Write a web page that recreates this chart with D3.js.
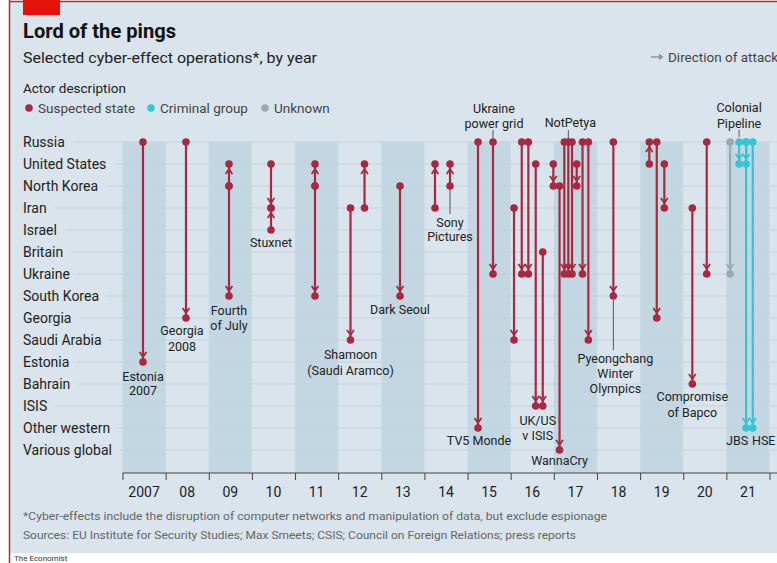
<!DOCTYPE html>
<html>
<head>
<meta charset="utf-8">
<script src="https://cdn.jsdelivr.net/npm/d3@7"></script>
<style>
  body { margin: 0; background: #fff; }
  text { font-family: Roboto, "Open Sans", sans-serif; }
</style>
</head>
<body>
<svg width="777" height="563"></svg>
<script>
// The svg
var svg = d3.select("svg"),
    width = +svg.attr("width"),
    height = +svg.attr("height");

// Data
var actors = ["Russia", "United States", "North Korea", "Iran", "Israel", "Britain", "Ukraine",
  "South Korea", "Georgia", "Saudi Arabia", "Estonia", "Bahrain", "ISIS", "Other western", "Various global"];
var years = d3.range(2007, 2022);
var yearLabels = ["2007", "08", "09", "10", "11", "12", "13", "14", "15", "16", "17", "18", "19", "20", "21"];
var actorTypes = ["Suspected state", "Criminal group", "Unknown"];

// one entry per operation (decimal year, attacker, target, actor description)
var opYear = [2007.475, 2008.472, 2009.469, 2009.469, 2010.443, 2010.443, 2011.463, 2011.463,
  2012.286, 2012.611, 2013.434, 2014.245, 2014.593, 2015.242, 2015.590, 2016.077, 2016.256,
  2016.409, 2016.580, 2016.743, 2016.988, 2017.132, 2017.243, 2017.336, 2017.422, 2017.531,
  2017.665, 2017.800, 2018.380, 2019.214, 2019.386, 2019.562, 2020.211, 2020.545, 2021.086,
  2021.295, 2021.458, 2021.458, 2021.612];
var opFrom = ["Russia", "Russia", "North Korea", "North Korea", "United States", "Israel",
  "North Korea", "North Korea", "Iran", "Iran", "North Korea", "Iran", "North Korea", "Russia",
  "Russia", "Iran", "Russia", "Russia", "United States", "Britain", "United States", "North Korea",
  "Russia", "Russia", "Russia", "United States", "Russia", "Russia", "Russia", "United States",
  "Russia", "United States", "Iran", "Russia", "Russia", "Russia", "Russia", "Russia", "Russia"];
var opTo = ["Estonia", "Georgia", "United States", "South Korea", "Iran", "Iran", "United States",
  "South Korea", "Saudi Arabia", "United States", "South Korea", "United States", "United States",
  "Other western", "Ukraine", "Saudi Arabia", "Ukraine", "Ukraine", "ISIS", "ISIS", "North Korea",
  "Various global", "Ukraine", "Ukraine", "Ukraine", "North Korea", "Ukraine", "Saudi Arabia",
  "South Korea", "Russia", "Georgia", "Iran", "Bahrain", "Ukraine", "Ukraine", "United States",
  "United States", "Other western", "Other western"];
var opType = ["Suspected state", "Suspected state", "Suspected state", "Suspected state",
  "Suspected state", "Suspected state", "Suspected state", "Suspected state", "Suspected state",
  "Suspected state", "Suspected state", "Suspected state", "Suspected state", "Suspected state",
  "Suspected state", "Suspected state", "Suspected state", "Suspected state", "Suspected state",
  "Suspected state", "Suspected state", "Suspected state", "Suspected state", "Suspected state",
  "Suspected state", "Suspected state", "Suspected state", "Suspected state", "Suspected state",
  "Suspected state", "Suspected state", "Suspected state", "Suspected state", "Suspected state",
  "Unknown", "Criminal group", "Criminal group", "Criminal group", "Criminal group"];

var ops = opYear.map(function (d, i) {
  return { year: d, from: opFrom[i], to: opTo[i], type: opType[i] };
});

// annotations: which operation, text lines, baselines, nudge
var notes = [
  { op: 0, lines: ["Estonia", "2007"], y: [381, 395], dx: 0 },
  { op: 1, lines: ["Georgia", "2008"], y: [335, 351], dx: -4 },
  { op: 2, lines: ["Fourth", "of July"], y: [315, 330], dx: 0 },
  { op: 4, lines: ["Stuxnet"], y: [247], dx: 0 },
  { op: 8, lines: ["Shamoon", "(Saudi Aramco)"], y: [359, 375], dx: 0 },
  { op: 10, lines: ["Dark Seoul"], y: [314], dx: 0 },
  { op: 12, lines: ["Sony", "Pictures"], y: [227, 241], dx: 0, leader: [189, 214] },
  { op: 14, lines: ["Ukraine", "power grid"], y: [113, 128], dx: 1, leader: [130, 138] },
  { op: 23, lines: ["NotPetya"], y: [127], dx: 2, leader: [130, 139] },
  { op: 13, lines: ["TV5 Monde"], y: [445], dx: 1 },
  { op: 19, lines: ["UK/US", "v ISIS"], y: [424.5, 439.5], dx: -5 },
  { op: 21, lines: ["WannaCry"], y: [465], dx: 0 },
  { op: 28, lines: ["Pyeongchang", "Winter", "Olympics"], y: [363, 378, 393], dx: 2, leader: [300, 350] },
  { op: 32, lines: ["Compromise", "of Bapco"], y: [401, 417], dx: 0 },
  { op: 35, lines: ["Colonial", "Pipeline"], y: [111.5, 127.5], dx: 0, leader: [130, 137] },
  { op: 37, lines: ["JBS"], y: [445], dx: -9 },
  { op: 38, lines: ["HSE"], y: [445], dx: 11 }
];

// Scales
var x = d3.scaleLinear().domain([2007, 2022]).range([122.5, 769.5]);
var y = d3.scalePoint().domain(actors).range([142, 450]);
var color = d3.scaleOrdinal().domain(actorTypes).range(["#a8283f", "#36c3d3", "#9fa8ae"]);
var axisY = 473;

// frame
svg.append("rect").attr("x", 10).attr("y", 1).attr("width", width - 10).attr("height", 552)
  .attr("fill", "#d9e4ec");
svg.append("line").attr("x1", 9.5).attr("x2", 9.5).attr("y1", 0).attr("y2", height)
  .attr("stroke", "#b3283a").attr("stroke-width", 1.5);
svg.append("line").attr("x1", 9).attr("x2", width).attr("y1", 1.5).attr("y2", 1.5)
  .attr("stroke", "#b3283a").attr("stroke-width", 1.5);
svg.append("rect").attr("x", 23).attr("y", 0).attr("width", 37).attr("height", 15).attr("fill", "#e3120b");

// titles
svg.append("text").attr("x", 23).attr("y", 38).attr("font-size", 20).attr("font-weight", 700)
  .attr("fill", "#111").attr("textLength", 153).attr("lengthAdjust", "spacingAndGlyphs")
  .text("Lord of the pings");
svg.append("text").attr("x", 23).attr("y", 63).attr("font-size", 15).attr("fill", "#222")
  .attr("textLength", 294).attr("lengthAdjust", "spacingAndGlyphs")
  .text("Selected cyber-effect operations*, by year");

// direction of attack
var dir = svg.append("g").attr("transform", "translate(651,57)");
dir.append("line").attr("x1", 0).attr("x2", 11).attr("y1", 0).attr("y2", 0)
  .attr("stroke", "#8b959c").attr("stroke-width", 1.5);
dir.append("path").attr("d", "M8,-3.5L12.5,0L8,3.5Z").attr("fill", "#8b959c");
dir.append("text").attr("x", 17).attr("y", 5).attr("font-size", 13.5).attr("fill", "#444")
  .text("Direction of attack");

// legend
svg.append("text").attr("x", 23).attr("y", 93).attr("font-size", 13.5).attr("fill", "#222")
  .text("Actor description");
var legendX = [29, 151, 265];
var lg = svg.append("g").selectAll("g").data(actorTypes).enter().append("g")
  .attr("transform", function (d, i) { return "translate(" + legendX[i] + ",108)"; });
lg.append("circle").attr("r", 3.8).attr("fill", function (d) { return color(d); });
lg.append("text").attr("x", 9).attr("y", 4.5).attr("font-size", 13.5).attr("fill", "#444")
  .text(function (d) { return d; });

// year bands
svg.append("g").selectAll("rect")
  .data(years.filter(function (d) { return (d - 2007) % 2 === 0; }))
  .enter().append("rect")
  .attr("x", function (d) { return x(d); })
  .attr("width", function (d) { return x(d + 1) - x(d); })
  .attr("y", y("Russia"))
  .attr("height", axisY - y("Russia"))
  .attr("fill", "#c3d7e3");

// row labels and gridlines
var rows = svg.append("g").selectAll("g").data(actors).enter().append("g");
rows.append("text").attr("x", 23).attr("y", function (d) { return y(d) + 5; })
  .attr("font-size", 14).attr("fill", "#222").text(function (d) { return d; });
rows.insert("line", "text")
  .attr("x1", function () { return 23 + this.parentNode.querySelector("text").getComputedTextLength() + 8; })
  .attr("x2", width)
  .attr("y1", function (d) { return y(d); })
  .attr("y2", function (d) { return y(d); })
  .attr("stroke", "#c5d3dd").attr("stroke-width", 1);

// x axis
var xAxis = svg.append("g").attr("transform", "translate(0," + axisY + ")")
  .call(d3.axisBottom(x).tickValues(d3.range(2007, 2023)).tickSize(7).tickFormat(""));
xAxis.select(".domain").remove();
xAxis.selectAll(".tick line").attr("stroke", "#444");
svg.append("line").attr("x1", x(2007)).attr("x2", width).attr("y1", axisY).attr("y2", axisY)
  .attr("stroke", "#444");
svg.append("g").selectAll("text").data(years).enter().append("text")
  .attr("x", function (d) { return x(d + 0.5); })
  .attr("y", axisY + 24)
  .attr("text-anchor", "middle").attr("font-size", 14).attr("fill", "#222")
  .text(function (d, i) { return yearLabels[i]; });

// operations
var g = svg.append("g");
g.selectAll("line.op").data(ops).enter().append("line").attr("class", "op")
  .attr("x1", function (d) { return x(d.year); })
  .attr("x2", function (d) { return x(d.year); })
  .attr("y1", function (d) { return y(d.from); })
  .attr("y2", function (d) { return y(d.to); })
  .attr("stroke", function (d) { return color(d.type); })
  .attr("stroke-width", 2.2);
g.selectAll("path.arrow").data(ops).enter().append("path").attr("class", "arrow")
  .attr("d", function (d) {
    var px = x(d.year), ty = y(d.to), s = ty > y(d.from) ? 1 : -1;
    return "M" + (px - 3.4) + "," + (ty - s * 10) + "L" + px + "," + (ty - s * 5) +
      "L" + (px + 3.4) + "," + (ty - s * 10);
  })
  .attr("fill", "none")
  .attr("stroke", function (d) { return color(d.type); })
  .attr("stroke-width", 1.8);
g.selectAll("circle.from").data(ops).enter().append("circle")
  .attr("cx", function (d) { return x(d.year); })
  .attr("cy", function (d) { return y(d.from); })
  .attr("r", 3.8).attr("fill", function (d) { return color(d.type); });
g.selectAll("circle.to").data(ops).enter().append("circle")
  .attr("cx", function (d) { return x(d.year); })
  .attr("cy", function (d) { return y(d.to); })
  .attr("r", 3.8).attr("fill", function (d) { return color(d.type); });

// annotations
var an = svg.append("g").selectAll("g").data(notes).enter().append("g");
an.filter(function (d) { return d.leader; }).append("line")
  .attr("x1", function (d) { return x(ops[d.op].year); })
  .attr("x2", function (d) { return x(ops[d.op].year); })
  .attr("y1", function (d) { return d.leader[0]; })
  .attr("y2", function (d) { return d.leader[1]; })
  .attr("stroke", "#555").attr("stroke-width", 1);
an.each(function (d) {
  var el = d3.select(this);
  d.lines.forEach(function (t, i) {
    el.append("text")
      .attr("x", x(ops[d.op].year) + d.dx)
      .attr("y", d.y[i])
      .attr("text-anchor", "middle")
      .attr("font-size", 12.5).attr("fill", "#222")
      .text(t);
  });
});

// footnotes
svg.append("text").attr("x", 23).attr("y", 520).attr("font-size", 11.5).attr("fill", "#666")
  .attr("textLength", 584).attr("lengthAdjust", "spacingAndGlyphs")
  .text("*Cyber-effects include the disruption of computer networks and manipulation of data, but exclude espionage");
svg.append("text").attr("x", 23).attr("y", 539).attr("font-size", 11.5).attr("fill", "#666")
  .attr("textLength", 553).attr("lengthAdjust", "spacingAndGlyphs")
  .text("Sources: EU Institute for Security Studies; Max Smeets; CSIS; Council on Foreign Relations; press reports");
svg.append("text").attr("x", 14).attr("y", 561).attr("font-size", 8).attr("font-family", "DejaVu Serif")
  .attr("fill", "#333").text("The Economist");
</script>
</body>
</html>
